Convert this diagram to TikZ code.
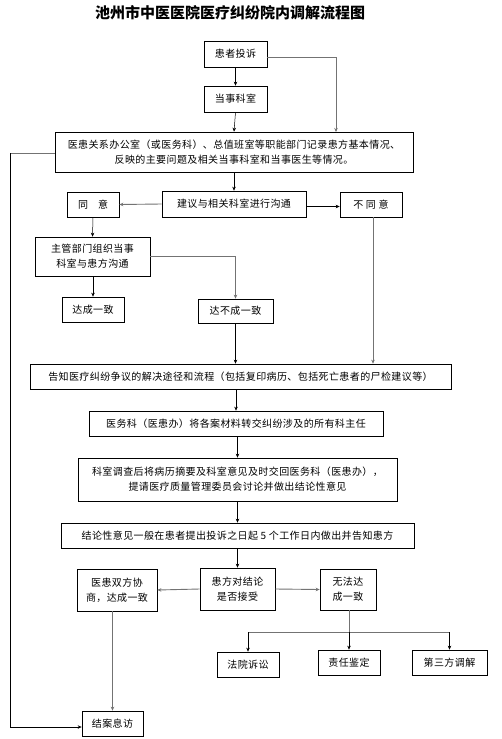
\documentclass[tikz,border=0pt]{standalone}
\usepackage{fontspec}
\setmainfont{Noto Sans CJK SC}
\newfontfamily\bxfont{Noto Sans CJK SC}[LetterSpace=4]
\usetikzlibrary{arrows.meta}
\begin{document}
\begin{tikzpicture}[x=1pt,y=-1pt,
  box/.style={draw=black,line width=0.7pt,inner sep=0pt,align=center,font=\bxfont\fontsize{10}{15}\selectfont},
  blk/.style={draw=black,line width=0.5pt,-{Stealth[length=4pt,width=3.5pt]}},
  gry/.style={draw=black!55,line width=0.9pt,-{Stealth[length=4pt,width=3.5pt]}},
  gryl/.style={draw=black!55,line width=0.9pt}]
\useasboundingbox[fill=white] (0,0) rectangle (501,739);
\node[font=\bfseries\fontsize{15}{18}\selectfont] (title) at (230,13) {池州市中医医院医疗纠纷院内调解流程图};
\node[box,minimum width=63pt,minimum height=26pt] (t1) at (235.5,54) {患者投诉};
\node[box,minimum width=63pt,minimum height=26pt] (t2) at (235.5,99) {当事科室};
\node[box,minimum width=358pt,minimum height=40pt] (t3) at (234,152) {医患关系办公室（或医务科）、总值班室等职能部门记录患方基本情况、\\反映的主要问题及相关当事科室和当事医生等情况。};
\node[box,minimum width=144pt,minimum height=26pt] (t4) at (234,204) {建议与相关科室进行沟通};
\node[box,minimum width=52pt,minimum height=25pt] (agree) at (93,204.5) {同\quad 意};
\node[box,minimum width=62pt,minimum height=25pt] (disagree) at (371,204.5) {不\ 同\ 意};
\node[box,minimum width=115pt,minimum height=39pt] (zg) at (92.5,256.5) {主管部门组织当事\\科室与患方沟通};
\node[box,minimum width=62pt,minimum height=25pt] (dc) at (93,309.5) {达成一致};
\node[box,minimum width=75pt,minimum height=24pt] (dbc) at (235.5,311) {达不成一致};
\node[box,minimum width=421pt,minimum height=25pt] (gz) at (240.5,376.5) {告知医疗纠纷争议的解决途径和流程（包括复印病历、包括死亡患者的尸检建议等）};
\node[box,minimum width=294pt,minimum height=25pt] (yw) at (236,423.5) {医务科（医患办）将各案材料转交纠纷涉及的所有科主任};
\node[box,minimum width=319pt,minimum height=43pt] (ks) at (237.5,479.5) {科室调查后将病历摘要及科室意见及时交回医务科（医患办），\\提请医疗质量管理委员会讨论并做出结论性意见};
\node[box,minimum width=353pt,minimum height=25pt] (jl) at (237.5,535.5) {结论性意见一般在患者提出投诉之日起 5 个工作日内做出并告知患方};
\node[box,minimum width=75pt,minimum height=42pt] (hf) at (237.5,589) {患方对结论\\是否接受};
\node[box,minimum width=80pt,minimum height=42pt] (yh) at (117,590) {医患双方协\\商，达成一致};
\node[box,minimum width=56pt,minimum height=41pt] (wf) at (348,589.5) {无法达\\成一致};
\node[box,minimum width=62pt,minimum height=25pt] (fy) at (248,664.5) {法院诉讼};
\node[box,minimum width=62pt,minimum height=25pt] (zr) at (349,662.5) {责任鉴定};
\node[box,minimum width=75pt,minimum height=25pt] (ds) at (449.5,662.5) {第三方调解};
\node[box,minimum width=61pt,minimum height=25pt] (ja) at (112.5,723.5) {结案息访};
% connectors
\draw[blk] (t1.south) -- (t2.north);
\coordinate (c1) at (336,132);
\draw[gry] ([yshift=-3pt]t1.east) -| (c1);
\draw[blk] (t2.south) -- (t3.north);
\draw[blk] (t3.south) -- (t4.north);
\coordinate (c2) at (10,153);
\draw[gryl] (t3.west |- c2) -- (c2);
\draw[blk] (c2) |- ([yshift=-3.5pt]ja.west);
\draw[gry] (t4.west) -- (agree.east);
\draw[blk] ([yshift=-2.5pt]t4.east) -- ([yshift=-2.5pt]t4.east -| disagree.west);
\draw[blk] (agree.south) -- (zg.north);
\draw[blk] (zg.south -| dc.north) -- (dc.north);
\draw[gry] (zg.east) -| (dbc.north);
\draw[blk] (dbc.south) -- (dbc.south |- gz.north);
\coordinate (c3) at (373,0);
\draw[gry] (disagree.south -| c3) -- (gz.north -| c3);
\draw[blk] (gz.south -| yw.north) -- (yw.north);
\draw[blk] (yw.south -| ks.north) -- (ks.north);
\draw[blk] (ks.south) -- (jl.north);
\draw[blk] (jl.south) -- (hf.north);
\draw[gry] (hf.west) -- (yh.east);
\draw[gry] (hf.east) -- (wf.west);
\coordinate (c4) at (349,632);
\draw[gryl] (wf.south -| c4) -- (c4);
\draw[gryl] (fy.north |- c4) -- (ds.north |- c4);
\draw[blk] (fy.north |- c4) -- (fy.north);
\draw[blk] (c4) -- (zr.north);
\draw[blk] (ds.north |- c4) -- (ds.north);
\draw[gry] (ja.north |- yh.south) -- (ja.north);
\end{tikzpicture}
\end{document}
